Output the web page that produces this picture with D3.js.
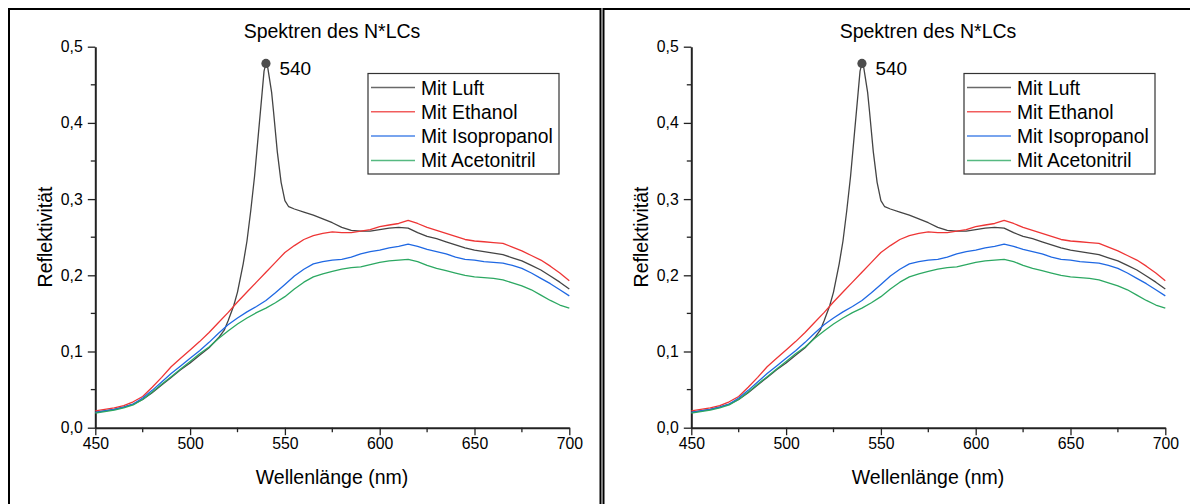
<!DOCTYPE html>
<html><head><meta charset="utf-8">
<script src="https://cdn.jsdelivr.net/npm/d3@7/dist/d3.min.js"></script>
<style>
html,body{margin:0;padding:0;background:#fff;}
svg{display:block;font-family:"Liberation Sans",Arial,sans-serif;}
</style></head>
<body><svg id="c" width="1190" height="504"></svg>
<script>
// ---- data ----
const title = "Spektren des N*LCs";
const xTitle = "Wellenlänge (nm)";
const yTitle = "Reflektivität";
const seriesNames = ["Mit Luft", "Mit Ethanol", "Mit Isopropanol", "Mit Acetonitril"];
const seriesColors = ["#444444", "#ee3535", "#1f68e3", "#2ca862"];
const xTicks = [450, 500, 550, 600, 650, 700];
const xTickLabels = ["450", "500", "550", "600", "650", "700"];
const yTicks = [0, 0.1, 0.2, 0.3, 0.4, 0.5];
const yTickLabels = ["0,0", "0,1", "0,2", "0,3", "0,4", "0,5"];
const peakX = 540, peakY = 0.478, peakLabel = "540";

const wlLuft = [450,455,460,465,470,475,480,485,490,495,500,505,510,515,518,520,523,525,528,530,532,534,536,538,539,540,541,543,544,546,548,550,552,555,560,565,570,575,580,585,590,595,600,605,610,615,620,625,630,635,640,645,650,655,660,665,670,675,680,685,690,695,700];
const luft = [0.020,0.022,0.024,0.027,0.031,0.037,0.046,0.056,0.066,0.076,0.085,0.095,0.105,0.118,0.128,0.140,0.160,0.178,0.215,0.245,0.285,0.330,0.385,0.440,0.468,0.478,0.472,0.440,0.415,0.362,0.322,0.298,0.290,0.287,0.283,0.279,0.274,0.269,0.263,0.259,0.258,0.258,0.260,0.262,0.263,0.262,0.256,0.251,0.248,0.244,0.240,0.236,0.233,0.231,0.229,0.227,0.223,0.219,0.213,0.207,0.199,0.191,0.182];

const wl = [450,455,460,465,470,475,480,485,490,495,500,505,510,515,520,525,530,535,540,545,550,555,560,565,570,575,580,585,590,595,600,605,610,615,620,625,630,635,640,645,650,655,660,665,670,675,680,685,690,695,700];
const ethanol = [0.022,0.024,0.026,0.029,0.034,0.041,0.053,0.066,0.080,0.091,0.102,0.113,0.125,0.138,0.151,0.165,0.178,0.191,0.204,0.217,0.230,0.239,0.247,0.252,0.255,0.257,0.256,0.256,0.258,0.260,0.264,0.266,0.268,0.272,0.268,0.263,0.259,0.255,0.251,0.247,0.245,0.244,0.243,0.242,0.237,0.232,0.226,0.220,0.212,0.203,0.193];
const isopropanol = [0.020,0.022,0.024,0.027,0.031,0.039,0.049,0.060,0.071,0.081,0.091,0.101,0.112,0.124,0.135,0.144,0.152,0.159,0.167,0.177,0.188,0.199,0.208,0.215,0.218,0.220,0.221,0.224,0.228,0.231,0.233,0.236,0.238,0.241,0.238,0.234,0.231,0.228,0.224,0.221,0.220,0.218,0.217,0.216,0.213,0.209,0.203,0.196,0.189,0.181,0.173];
const acetonitril = [0.019,0.021,0.023,0.026,0.030,0.037,0.047,0.057,0.067,0.077,0.087,0.097,0.106,0.117,0.127,0.136,0.144,0.151,0.157,0.164,0.172,0.182,0.191,0.198,0.202,0.205,0.208,0.210,0.211,0.214,0.217,0.219,0.220,0.221,0.218,0.213,0.209,0.206,0.203,0.200,0.198,0.197,0.196,0.194,0.190,0.186,0.181,0.174,0.167,0.161,0.157];

const series = [
  {name: seriesNames[0], color: seriesColors[0], xs: wlLuft, ys: luft},
  {name: seriesNames[1], color: seriesColors[1], xs: wl, ys: ethanol},
  {name: seriesNames[2], color: seriesColors[2], xs: wl, ys: isopropanol},
  {name: seriesNames[3], color: seriesColors[3], xs: wl, ys: acetonitril}
];

// ---- drawing ----
const svg = d3.select("#c");

// panel frames
svg.append("rect").attr("x", 9).attr("y", 9).attr("width", 591.5).attr("height", 520)
  .attr("fill", "none").attr("stroke", "#000").attr("stroke-width", 2);
svg.append("rect").attr("x", 603.5).attr("y", 9).attr("width", 620).attr("height", 520)
  .attr("fill", "none").attr("stroke", "#000").attr("stroke-width", 2);

function drawPanel(dx) {
  const g = svg.append("g").attr("transform", `translate(${dx},0)`);
  const x = d3.scaleLinear().domain([450, 700]).range([95.3, 569.3]);
  const y = d3.scaleLinear().domain([0, 0.5]).range([427.7, 46.7]);

  // minor ticks
  const minorX = d3.range(475, 700, 50);
  const minorY = d3.range(0.05, 0.5, 0.1);
  g.selectAll(".mx").data(minorX).join("line")
    .attr("x1", d => x(d)).attr("x2", d => x(d))
    .attr("y1", y(0)).attr("y2", y(0) + 4.5)
    .attr("stroke", "#222").attr("stroke-width", 1.3);
  g.selectAll(".my").data(minorY).join("line")
    .attr("y1", d => y(d)).attr("y2", d => y(d))
    .attr("x1", x(450)).attr("x2", x(450) - 4.5)
    .attr("stroke", "#222").attr("stroke-width", 1.3);

  // axes
  const xa = d3.axisBottom(x).tickValues(xTicks).tickFormat((d, i) => xTickLabels[i])
    .tickSizeInner(7.5).tickSizeOuter(0).tickPadding(3);
  const ya = d3.axisLeft(y).tickValues(yTicks).tickFormat((d, i) => yTickLabels[i])
    .tickSizeInner(7.5).tickSizeOuter(0).tickPadding(5);
  const gx = g.append("g").attr("transform", `translate(0,${y(0)})`).call(xa);
  const gy = g.append("g").attr("transform", `translate(${x(450)},0)`).call(ya);
  [gx, gy].forEach(a => {
    a.select(".domain").attr("stroke", "#222").attr("stroke-width", 2);
    a.selectAll(".tick line").attr("stroke", "#222").attr("stroke-width", 1.3);
    a.selectAll(".tick text").attr("fill", "#000")
      .style("font-family", '"Liberation Sans",Arial,sans-serif').style("font-size", "15.8px");
  });

  // lines
  const line = d3.line().x(d => x(d[0])).y(d => y(d[1]));
  series.forEach(s => {
    g.append("path").datum(s.xs.map((v, i) => [v, s.ys[i]]))
      .attr("d", line).attr("fill", "none")
      .attr("stroke", s.color).attr("stroke-width", 1.3).attr("stroke-linejoin", "round");
  });

  // peak annotation
  g.append("circle").attr("cx", x(peakX)).attr("cy", y(peakY)).attr("r", 4.6).attr("fill", "#4d4d4d");
  g.append("text").attr("x", x(peakX) + 13.5).attr("y", y(peakY) + 11.5)
    .style("font-size", "19px").text(peakLabel);

  // title
  g.append("text").attr("x", 332).attr("y", 38).attr("text-anchor", "middle")
    .style("font-size", "19.5px").text(title);
  // axis titles
  g.append("text").attr("x", 332).attr("y", 484).attr("text-anchor", "middle")
    .style("font-size", "19.5px").text(xTitle);
  g.append("text").attr("transform", "translate(51.5,237) rotate(-90)").attr("text-anchor", "middle")
    .style("font-size", "19.5px").text(yTitle);

  // legend
  const lg = g.append("g");
  lg.append("rect").attr("x", 368).attr("y", 73.5).attr("width", 191).attr("height", 100.5)
    .attr("fill", "#fff").attr("stroke", "#333").attr("stroke-width", 1.2);
  series.forEach((s, i) => {
    const yy = 87.5 + i * 24.3;
    lg.append("line").attr("x1", 371).attr("x2", 415).attr("y1", yy).attr("y2", yy)
      .attr("stroke", s.color).attr("stroke-width", 1.5).attr("stroke-opacity", 0.8);
    lg.append("text").attr("x", 421).attr("y", yy + 7).style("font-size", "19.3px").text(s.name);
  });
}

drawPanel(0);
drawPanel(596);
</script>
</body></html>
